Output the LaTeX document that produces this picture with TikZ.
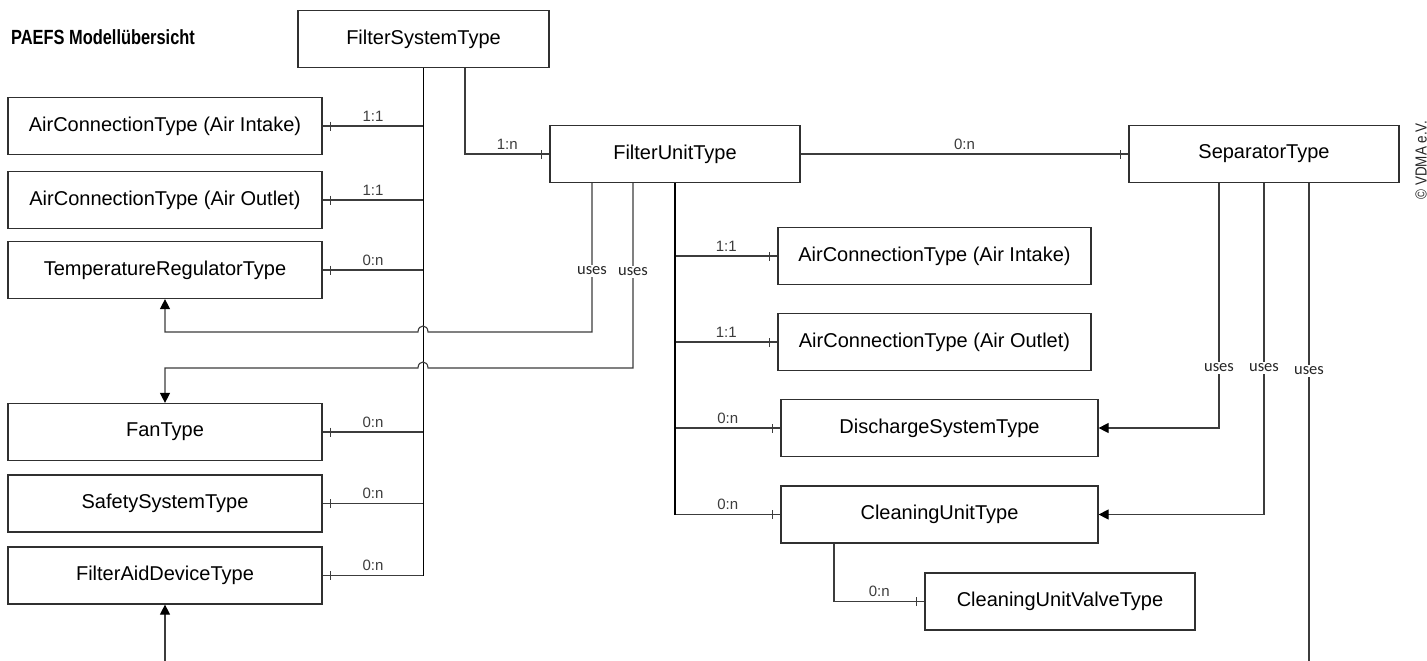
\documentclass[tikz,border=0pt]{standalone}
\usepackage{fontspec}
\setmainfont{Liberation Sans}
\newfontfamily\usesfnt{Carlito}
\usetikzlibrary{arrows.meta,decorations.markings}
\definecolor{lgray}{HTML}{3C3C3C}
\definecolor{bgray}{HTML}{303030}
\tikzset{
  box/.style={draw=bgray, line width=1.2pt, minimum height=57pt, inner sep=0pt,
    font=\fontsize{20}{22}\selectfont},
  conn/.style={draw=lgray, line width=1.1pt},
  trunk/.style={draw=black, line width=1.8pt},
  crow/.style={postaction={decorate}, decoration={markings,
    mark=at position -8pt with {\draw[lgray, line width=1.1pt] (0pt,-4.5pt) -- (0pt,4.5pt);}}},
  arr/.style={-{Triangle[length=10pt,width=10pt,color=black]}},
  card/.style={font=\fontsize{15}{16}\selectfont, text=lgray, inner sep=1pt, above=3pt},
  useslbl/.style={font=\usesfnt\fontsize{16.5}{18}\selectfont, fill=white, inner sep=1.5pt, text=black!85},
}
\begin{document}
\begin{tikzpicture}[x=1pt, y=-1pt]
\useasboundingbox (0,0) rectangle (1427,661);

% title and copyright
\node[font=\bfseries\fontsize{20.5}{22}\selectfont] (title) at (103,37) {\scalebox{0.8}[1]{PAEFS Modellübersicht}};
\node[rotate=90, font=\fontsize{16}{18}\selectfont, text=black!85] (copy) at (1421,160) {\scalebox{0.84}[1]{© VDMA e.V.}};

% main boxes
\node[box, minimum width=251pt] (fst) at (423.5,39) {FilterSystemType};
\node[box, minimum width=250pt] (fut) at (675,154) {FilterUnitType};
\node[box, minimum width=270pt] (sep) at (1264,154) {SeparatorType};

% left column
\node[box, minimum width=314pt] (ail) at (165,126) {AirConnectionType (Air Intake)};
\node[box, minimum width=314pt] (aol) at (165,200) {AirConnectionType (Air Outlet)};
\node[box, minimum width=314pt] (tr)  at (165,270) {TemperatureRegulatorType};
\node[box, minimum width=314pt] (fan) at (165,432) {FanType};
\node[box, minimum width=314pt] (ssy) at (165,503.5) {SafetySystemType};
\node[box, minimum width=314pt] (fad) at (165,575.5) {FilterAidDeviceType};

% right column
\node[box, minimum width=313pt] (air) at (934.5,256) {AirConnectionType (Air Intake)};
\node[box, minimum width=313pt] (aor) at (934.5,342) {AirConnectionType (Air Outlet)};
\node[box, minimum width=317pt] (dis) at (939.5,428) {DischargeSystemType};
\node[box, minimum width=317pt] (clu) at (939.5,514.5) {CleaningUnitType};
\node[box, minimum width=270pt] (cuv) at (1060,601.5) {CleaningUnitValveType};

\coordinate (sepend) at (1309,661);
\coordinate (fadstart) at (165,661);

% FilterSystemType trunk and branches
\draw[conn,crow] (fst.south |- ail.east) -- node[card]{1:1} (ail.east);
\draw[conn,crow] (fst.south |- aol.east) -- node[card]{1:1} (aol.east);
\draw[conn,crow] (fst.south |- tr.east) -- node[card]{0:n} (tr.east);
\draw[conn,crow] (fst.south |- fan.east) -- node[card]{0:n} (fan.east);
\draw[conn,crow] (fst.south |- ssy.east) -- node[card]{0:n} (ssy.east);
\draw[conn,crow] (fst.south |- fad.east) -- node[card]{0:n} (fad.east);
\draw[trunk] (fst.south) -- (fst.south |- fad.east);

% FilterSystemType -> FilterUnitType
\draw[conn,crow] ([xshift=41.5pt]fst.south) |- node[card,pos=0.75]{1:n} (fut.west);

% FilterUnitType -> SeparatorType
\draw[conn,crow] (fut.east) -- node[card]{0:n} (sep.west);

% FilterUnitType trunk and branches
\draw[conn,crow] (fut.south |- air.west) -- node[card]{1:1} (air.west);
\draw[conn,crow] (fut.south |- aor.west) -- node[card]{1:1} (aor.west);
\draw[conn,crow] (fut.south |- dis.west) -- node[card]{0:n} (dis.west);
\draw[conn,crow] (fut.south |- clu.west) -- node[card]{0:n} (clu.west);
\draw[trunk] (fut.south) -- (fut.south |- clu.west);

% CleaningUnitType -> CleaningUnitValveType
\draw[conn,crow] ([xshift=-105.5pt]clu.south) |- node[card,pos=0.75]{0:n} (cuv.west);

% FilterUnitType uses
\draw[conn,arr] ([xshift=-83pt]fut.south) |- (428,332) .. controls (428,324) and (418,324) .. (418,332) -| (tr.south);
\draw[conn,arr] ([xshift=-42pt]fut.south) |- (428,368) .. controls (428,360) and (418,360) .. (418,368) -| (fan.north);
\node[useslbl] (u1) at (592,271) {uses};
\node[useslbl] (u2) at (633,272) {uses};

% SeparatorType uses
\draw[conn,arr] ([xshift=-45pt]sep.south) |- (dis.east);
\draw[conn,arr] (sep.south) |- (clu.east);
\draw[conn] ([xshift=45pt]sep.south) -- (sepend);
\node[useslbl] (u3) at (1219,368) {uses};
\node[useslbl] (u4) at (1264,368) {uses};
\node[useslbl] (u5) at (1309,371) {uses};

% arrow into FilterAidDeviceType
\draw[conn,arr] (fadstart) -- (fad.south);
\end{tikzpicture}
\end{document}
